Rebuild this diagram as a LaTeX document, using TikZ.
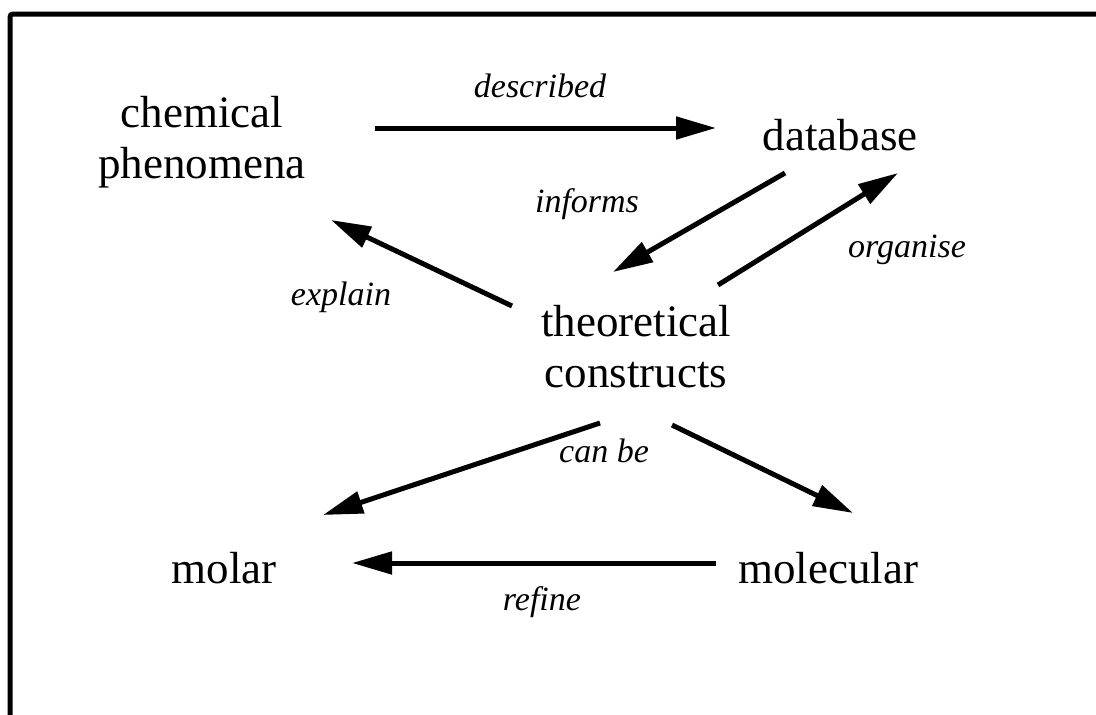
\documentclass[tikz,border=0pt]{standalone}
\usepackage{fontspec}
\setmainfont{Liberation Serif}
\usetikzlibrary{arrows.meta}

\begin{document}
\begin{tikzpicture}[x=1pt,y=-1pt,
    concept/.style={inner sep=0pt,align=center,font=\fontsize{45}{51}\selectfont},
    verb/.style={inner sep=0pt,anchor=base,font=\fontsize{34}{40}\selectfont\itshape},
    link/.style={line width=5pt,-{Triangle[length=40pt,width=22pt]}}]
        \useasboundingbox (0,0) rectangle (1096,715);
        \draw[line width=5pt,rounded corners=3pt] (10,900) -- (10,14) -- (1200,14);
        \node[concept] (chem) at (202,142) {chemical\\phenomena};
        \node[concept,anchor=base] (db) at (840,150) {database};
        \node[concept] (theo) at (636,347) {theoretical\\constructs};
        \node[concept,anchor=base] (molar) at (224,583) {molar};
        \node[concept,anchor=base] (molec) at (828,583) {molecular};
        \draw[link] ([shift={(173,-14)}]chem.center) -- ([shift={(-124,-22)}]db.base);
        \draw[link] ([shift={(-55,23)}]db.base) -- ([shift={(-23,-75)}]theo.center);
        \draw[link] ([shift={(82,-62)}]theo.center) -- ([shift={(58,23)}]db.base);
        \draw[link] ([shift={(-124,-41)}]theo.center) -- ([shift={(129,78)}]chem.center);
        \draw[link] ([shift={(-36,76)}]theo.center) -- ([shift={(99,-68)}]molar.base);
        \draw[link] ([shift={(36,78)}]theo.center) -- ([shift={(25,-70)}]molec.base);
        \draw[link] ([shift={(-112,-20)}]molec.base) -- ([shift={(128,-20)}]molar.base);
        \node[verb] (described) at (540,97) {described};
        \node[verb] (informs) at (587,212) {informs};
        \node[verb] (organise) at (907,257) {organise};
        \node[verb] (explain) at (341,305) {explain};
        \node[verb] (canbe) at (604,462) {can be};
        \node[verb] (refine) at (542,610) {refine};
\end{tikzpicture}
\end{document}
